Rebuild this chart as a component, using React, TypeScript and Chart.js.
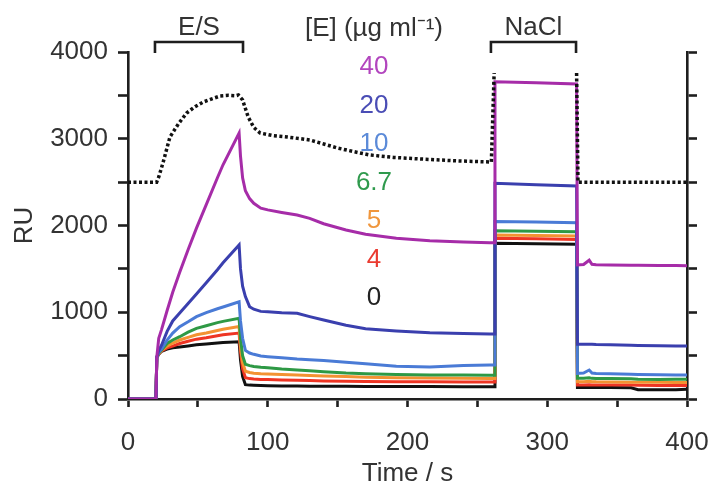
import React, { useEffect, useRef } from "react";
import { Chart, registerables } from "chart.js";

Chart.register(...registerables);

// ---- data (time in s, response in RU) ----
const timeS = [0, 20, 20.6, 22, 24, 28, 32, 37, 43, 49, 56, 64, 68, 79.5, 80.5, 82, 84, 87, 90, 95, 100, 110, 121, 130, 140, 156, 170, 192, 216, 240, 259, 262, 262.6, 292, 321, 321.6, 326, 330, 332, 335, 345, 360, 365, 380, 392, 400];

const ru40 = [0, 0, 480, 700, 800, 1020, 1230, 1460, 1720, 1970, 2240, 2550, 2700, 3065, 2800, 2550, 2400, 2310, 2256, 2200, 2180, 2150, 2120, 2082, 2020, 1948, 1900, 1852, 1825, 1810, 1800, 1800, 3658, 3645, 3631, 1545, 1550, 1600, 1552, 1548, 1545, 1543, 1542, 1540, 1538, 1535];
const ru20 = [0, 0, 480, 560, 620, 780, 900, 990, 1100, 1210, 1340, 1490, 1570, 1775, 1500, 1300, 1180, 1064, 1035, 1010, 1005, 995, 988, 950, 910, 850, 810, 785, 765, 755, 750, 750, 2486, 2470, 2455, 630, 630, 632, 630, 628, 625, 620, 618, 615, 612, 611];
const ru10 = [0, 0, 480, 540, 575, 680, 760, 834, 890, 949, 995, 1040, 1060, 1120, 900, 700, 560, 530, 515, 495, 488, 475, 460, 452, 445, 425, 405, 378, 368, 385, 392, 392, 2047, 2040, 2032, 296, 300, 334, 300, 295, 290, 285, 283, 280, 278, 277];
const ru6_7 = [0, 0, 480, 530, 565, 640, 680, 718, 770, 815, 845, 880, 895, 930, 700, 500, 400, 385, 375, 365, 360, 345, 335, 325, 315, 300, 292, 282, 278, 276, 275, 275, 1940, 1934, 1928, 238, 238, 245, 238, 236, 235, 232, 228, 225, 227, 227];
const ru5 = [0, 0, 480, 525, 560, 610, 645, 680, 710, 740, 760, 790, 805, 835, 600, 420, 320, 305, 298, 292, 288, 282, 278, 272, 265, 258, 252, 246, 242, 238, 235, 235, 1891, 1886, 1880, 200, 200, 205, 200, 198, 196, 194, 193, 192, 191, 190];
const ru4 = [0, 0, 480, 520, 555, 590, 610, 640, 665, 690, 705, 730, 740, 760, 550, 350, 245, 235, 230, 226, 224, 220, 215, 212, 208, 205, 203, 200, 198, 196, 195, 195, 1852, 1846, 1840, 161, 161, 165, 161, 160, 160, 160, 158, 156, 156, 155];
const ru0 = [0, 0, 480, 515, 550, 575, 590, 600, 612, 625, 635, 645, 650, 660, 450, 260, 165, 160, 158, 155, 153, 151, 150, 148, 147, 146, 145, 144, 143, 142, 140, 140, 1794, 1790, 1785, 134, 134, 134, 134, 133, 132, 130, 108, 106, 106, 112];

// reference (dotted) trace
const refTime = [0, 20.5, 22, 25, 30, 36, 42, 48, 54, 60, 66, 72, 77, 79, 82, 86, 90, 94.6, 104, 114, 130, 140, 150, 162, 173, 190, 209, 235, 260, 262, 291, 321, 322, 400];
const refRU = [2500, 2500, 2559, 2720, 3020, 3170, 3297, 3370, 3424, 3460, 3493, 3500, 3495, 3504, 3447, 3251, 3130, 3066, 3035, 3020, 2986, 2940, 2893, 2850, 2813, 2785, 2767, 2745, 2732, 3758, null, 3758, 2500, 2500];

const concLabels = ["40", "20", "10", "6.7", "5", "4", "0"];
const seriesValues = [ru40, ru20, ru10, ru6_7, ru5, ru4, ru0];
const lineColors = ["#a62ca8", "#3a3fae", "#4a7bd6", "#2e9945", "#f39232", "#ee3524", "#111111"];
const labelColors = ["#b245be", "#4a4db5", "#5b8ad8", "#2f9a4d", "#f0963c", "#ea3a30", "#222222"];

const esInterval = [19.3, 82.3];
const naclInterval = [259.7, 320.6];
const xTickValues = [0, 100, 200, 300, 400];
const yTickValues = [0, 1000, 2000, 3000, 4000];

const FONT = "'Liberation Sans', Arial, Helvetica, sans-serif";
const TEXT = "#333333";
const AXIS = "#1e1e1e";

const annotate = {
  id: "annotate",
  afterDraw(chart: any) {
    const { ctx, chartArea, scales } = chart;
    const xs = scales.x;
    ctx.save();
    ctx.font = `26px ${FONT}`;
    ctx.textAlign = "center";
    ctx.textBaseline = "alphabetic";
    ctx.strokeStyle = AXIS;
    ctx.lineWidth = 2.6;
    const bracket = (iv: number[], label: string) => {
      const x0 = xs.getPixelForValue(iv[0]);
      const x1 = xs.getPixelForValue(iv[1]);
      const yTop = chartArea.top - 10;
      const yBot = chartArea.top + 1;
      ctx.beginPath();
      ctx.moveTo(x0, yBot);
      ctx.lineTo(x0, yTop);
      ctx.lineTo(x1, yTop);
      ctx.lineTo(x1, yBot);
      ctx.stroke();
      ctx.fillStyle = TEXT;
      ctx.fillText(label, (x0 + x1) / 2, chartArea.top - 17);
    };
    bracket(esInterval, "E/S");
    bracket(naclInterval, "NaCl");

    const lx = xs.getPixelForValue(176);
    ctx.fillStyle = TEXT;
    ctx.fillText("[E] (µg ml⁻¹)", lx, chartArea.top - 16);
    concLabels.forEach((lab, i) => {
      ctx.fillStyle = labelColors[i];
      ctx.fillText(lab, lx, chartArea.top + 22 + i * 38.5);
    });
    ctx.restore();
  },
};

export default function App() {
  const ref = useRef<HTMLCanvasElement | null>(null);
  useEffect(() => {
    const canvas = ref.current;
    if (!canvas) return;
    const datasets: any[] = [
      {
        label: "reference",
        data: refTime.map((t, i) => ({ x: t, y: refRU[i] })),
        borderColor: "#111111",
        borderWidth: 3.5,
        borderDash: [3, 2.5],
        borderCapStyle: "butt",
        pointRadius: 0,
        fill: false,
        spanGaps: false,
      },
      ...seriesValues.map((vals, i) => ({
        label: concLabels[i],
        data: timeS.map((t, j) => ({ x: t, y: vals[j] })),
        borderColor: lineColors[i],
        borderWidth: 3,
        pointRadius: 0,
        fill: false,
      })),
    ];
    const tickFont = { family: FONT, size: 26, lineHeight: 1 };
    const xTickFont = { family: FONT, size: 26, lineHeight: 2.75 };
    const chart = new Chart(canvas, {
      type: "line",
      data: { datasets },
      plugins: [annotate],
      options: {
        animation: false,
        responsive: false,
        devicePixelRatio: 1,
        layout: { padding: { top: 52, left: 0, right: 0, bottom: 0 } },
        plugins: { legend: { display: false }, tooltip: { enabled: false } },
        elements: { line: { tension: 0 } },
        scales: {
          x: {
            type: "linear",
            min: 0,
            max: 400,
            position: "bottom",
            ticks: {
              stepSize: 50,
              autoSkip: false,
              maxRotation: 0,
              callback: (v: any) => (xTickValues.includes(Number(v)) ? String(v) : ""),
              font: xTickFont,
              color: TEXT,
              padding: 0,
            },
            grid: { drawOnChartArea: false, tickLength: 8, tickWidth: 2.6, tickColor: AXIS },
            border: { display: true, color: AXIS, width: 2.6 },
            title: { display: true, text: "Time / s", font: tickFont, color: TEXT, padding: { top: 0, bottom: -4 } },
            afterFit: (s: any) => {
              s.height = 84;
            },
          },
          y: {
            type: "linear",
            min: 0,
            max: 4000,
            position: "left",
            ticks: {
              stepSize: 500,
              autoSkip: false,
              callback: (v: any) => (yTickValues.includes(Number(v)) ? String(v) : ""),
              font: tickFont,
              color: TEXT,
              padding: 10,
            },
            grid: { drawOnChartArea: false, tickLength: 10, tickWidth: 2.6, tickColor: AXIS },
            border: { display: true, color: AXIS, width: 2.6 },
            title: { display: true, text: "RU", font: tickFont, color: TEXT, padding: { top: 12, bottom: 0 } },
            afterFit: (s: any) => {
              s.width = 128;
            },
          },
          y2: {
            type: "linear",
            min: 0,
            max: 4000,
            position: "right",
            ticks: { stepSize: 500, autoSkip: false, callback: () => "", font: tickFont, padding: 0 },
            grid: { drawOnChartArea: false, tickLength: 10, tickWidth: 2.6, tickColor: AXIS },
            border: { display: true, color: AXIS, width: 2.6 },
            afterFit: (s: any) => {
              s.width = 26;
            },
          },
        },
      } as any,
    });
    return () => chart.destroy();
  }, []);
  return (
    <div style={{ position: "absolute", left: 0, top: 0, width: 713, height: 483, background: "#ffffff" }}>
      <canvas ref={ref} width={713} height={483} style={{ display: "block" }} />
    </div>
  );
}
